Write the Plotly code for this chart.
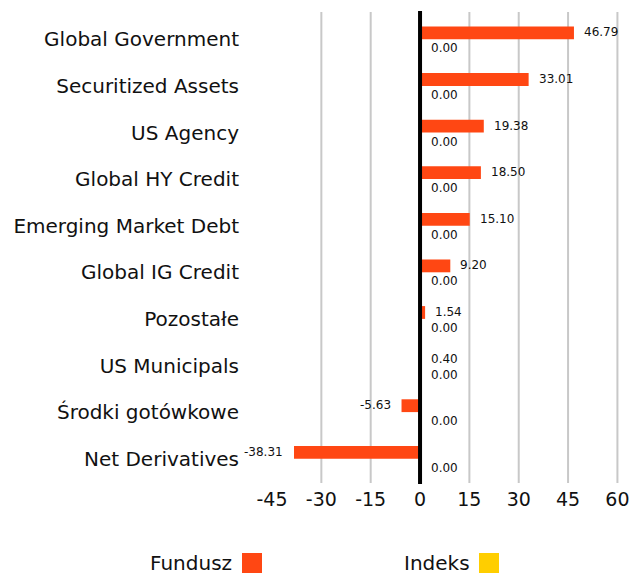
import plotly.graph_objects as go

categories = ["Global Government", "Securitized Assets", "US Agency", "Global HY Credit",
              "Emerging Market Debt", "Global IG Credit", "Pozostałe", "US Municipals",
              "Środki gotówkowe", "Net Derivatives"]
fund_values = [46.79, 33.01, 19.38, 18.50, 15.10, 9.20, 1.54, 0.40, -5.63, -38.31]
index_values = [0.00, 0.00, 0.00, 0.00, 0.00, 0.00, 0.00, 0.00, 0.00, 0.00]
series_names = ["Fundusz", "Indeks"]
series_colors = ["#FF4713", "#FFCE00"]
tick_values = [-45, -30, -15, 0, 15, 30, 45, 60]

W, H = 630, 578
L, R, T, B = 272, 6, 16, 96
FONT = "DejaVu Sans, sans-serif"
TXT = "#111111"

def px_x(px):
    return (px - L) / (W - L - R)

def px_y(py):
    return (H - B - py) / (H - T - B)

fig = go.Figure()
for name, vals, col in zip(series_names, [fund_values, index_values], series_colors):
    fig.add_trace(go.Bar(y=categories, x=vals, name=name, orientation="h",
                         marker=dict(color=col, line=dict(width=0)),
                         showlegend=False, cliponaxis=False, hoverinfo="skip"))

annotations = []
for cat, v in zip(categories, fund_values):
    annotations.append(dict(x=v, y=cat, xref="x", yref="y", text=f"{v:.2f}",
                            showarrow=False, xanchor="left" if v >= 0 else "right",
                            xshift=8 if v >= 0 else -9, yshift=7,
                            font=dict(family=FONT, size=12, color=TXT)))
for cat, v in zip(categories, index_values):
    annotations.append(dict(x=v, y=cat, xref="x", yref="y", text=f"{v:.2f}",
                            showarrow=False, xanchor="left" if v >= 0 else "right",
                            xshift=9 if v >= 0 else -10, yshift=-9,
                            font=dict(family=FONT, size=12, color=TXT)))

shapes = []
for t in tick_values:
    if t in (-45, 0):
        continue
    shapes.append(dict(type="line", xref="x", yref="paper", x0=t, x1=t,
                       y0=px_y(483), y1=px_y(12), line=dict(color="#c8c8c8", width=2),
                       layer="below"))
shapes.append(dict(type="line", xref="x", yref="paper", x0=0, x1=0,
                   y0=px_y(484), y1=px_y(11), line=dict(color="#000000", width=4),
                   layer="above"))

# Legend (text followed by a coloured square)
legend_items = [(series_names[0], series_colors[0], 234, 242),
                (series_names[1], series_colors[1], 472, 479)]
for name, col, text_right, sq_left in legend_items:
    annotations.append(dict(x=px_x(text_right), y=px_y(563), xref="paper", yref="paper",
                            text=name, showarrow=False, xanchor="right", yanchor="middle",
                            font=dict(family=FONT, size=20, color=TXT)))
    shapes.append(dict(type="rect", xref="paper", yref="paper",
                       x0=px_x(sq_left), x1=px_x(sq_left + 20),
                       y0=px_y(573), y1=px_y(553), fillcolor=col,
                       line=dict(width=0)))

fig.update_layout(
    width=W, height=H,
    margin=dict(l=L, r=R, t=T, b=B, autoexpand=False),
    paper_bgcolor="white", plot_bgcolor="white",
    barmode="group", bargap=0.45, bargroupgap=0,
    annotations=annotations, shapes=shapes,
    showlegend=False, hovermode=False,
    xaxis=dict(range=[-45, 62], tickvals=tick_values, ticktext=[str(t) for t in tick_values],
               showgrid=False, zeroline=False, showline=False, ticks="", automargin=False,
               ticklabelstandoff=4, ticklabeloverflow="allow",
               tickfont=dict(family=FONT, size=19, color=TXT)),
    yaxis=dict(autorange="reversed", showgrid=False, zeroline=False, showline=False,
               ticks="", ticklabelstandoff=32, automargin=False,
               tickfont=dict(family=FONT, size=20, color=TXT)),
)

fig.write_html("out.html", config={"displayModeBar": False},
               post_script="document.body.style.margin='0px';")
